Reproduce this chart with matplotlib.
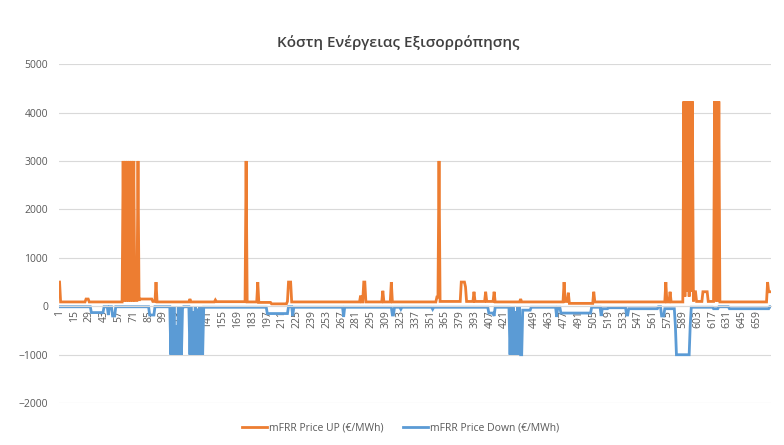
import matplotlib
matplotlib.use("Agg")
import matplotlib.pyplot as plt
import numpy as np

# set font
plt.rcParams['font.family'] = ['Open Sans', 'DejaVu Sans']

title = "Κόστη Ενέργειας Εξισορρόπησης"
label_up = "mFRR Price UP (€/MWh)"
label_down = "mFRR Price Down (€/MWh)"

n_points = 672

# runs: (last index of run, value)
up_runs = [(1, 500), (25, 90), (28, 150), (60, 90),
           (61, 3000), (62, 100), (63, 3000), (64, 100), (65, 3000), (66, 100),
           (67, 3000), (68, 100), (69, 3000), (70, 100), (71, 3000),
           (74, 120), (75, 3000), (76, 120), (88, 150), (91, 100),
           (92, 500), (123, 90), (124, 150), (147, 90), (148, 130), (176, 95), (177, 3000),
           (187, 90), (188, 500), (200, 80), (215, 50), (216, 100), (219, 500), (284, 90),
           (285, 220), (287, 90), (289, 500), (305, 90), (306, 320), (313, 90), (314, 500),
           (356, 90), (358, 190), (359, 3000), (379, 100), (383, 500), (384, 400), (391, 100),
           (392, 300), (402, 100), (403, 300), (410, 100), (411, 300), (435, 90), (436, 150),
           (476, 90), (477, 500), (480, 100), (481, 280), (504, 60), (505, 300), (572, 90),
           (573, 500), (576, 90), (577, 300), (589, 90),
           (590, 4230), (591, 200), (592, 4230), (593, 300), (594, 4230), (595, 200),
           (596, 4230), (597, 300), (598, 4230),
           (599, 100), (601, 300), (607, 100), (612, 300), (618, 100),
           (619, 4230), (620, 100), (621, 4230), (622, 100), (623, 4230),
           (668, 90), (669, 500), (672, 300)]

down_runs = [(30, -10), (42, -130), (46, -10), (47, -180), (50, -10), (53, -200), (85, -10),
             (90, -180), (105, -10),
             (106, -1000), (107, -10), (108, -1000), (109, -10), (110, -1000), (111, -400),
             (112, -1000), (113, -10), (114, -1000), (115, -10), (116, -1000), (117, -50),
             (123, -10),
             (124, -1000), (125, -10), (126, -1000), (127, -100), (128, -1000), (129, -10),
             (130, -1000), (131, -50), (132, -1000), (133, -10), (134, -1000), (135, -10),
             (136, -1000),
             (196, -20), (216, -150),
             (220, -10), (221, -200), (268, -20), (269, -220), (314, -20), (316, -180),
             (322, -20), (323, -60), (352, -20), (353, -60), (405, -20), (410, -140),
             (411, -200), (425, -20),
             (426, -1000), (427, -20), (428, -1000), (429, -20), (430, -1000), (431, -100),
             (432, -1000), (433, -20), (434, -1000), (435, -20), (437, -1000),
             (445, -80),
             (469, -20), (470, -220), (473, -20), (502, -140), (511, -20), (512, -200),
             (518, -50), (535, -30), (537, -180), (565, -50), (568, -10), (571, -200),
             (581, -50), (582, -400), (595, -1000), (596, -400), (617, -20), (622, -50),
             (632, -10), (670, -50), (672, -10)]


def expand(runs):
    ends = np.array([r[0] for r in runs])
    vals = np.array([r[1] for r in runs], dtype=float)
    counts = np.diff(np.concatenate([[0], ends]))
    return np.repeat(vals, counts)


price_up = expand(up_runs)
price_down = expand(down_runs)
x = np.arange(1, n_points + 1)

fig = plt.figure(figsize=(7.84, 4.45), dpi=100)
ax = fig.add_axes([0.0753, 0.094, 0.9085, 0.762])

# axis line through zero (set before tick styling, it resets the ticks)
for s in ['top', 'right', 'left']:
    ax.spines[s].set_visible(False)
ax.spines['bottom'].set_position(('data', 0))
ax.spines['bottom'].set_color('#d9d9d9')

ax.plot(x, price_up, color='#ED7D31', lw=2.0, label=label_up, solid_joinstyle='miter')
ax.plot(x, price_down, color='#5B9BD5', lw=2.0, label=label_down, solid_joinstyle='miter')

ax.set_xlim(0.5, n_points + 0.5)
ax.set_ylim(-2000, 5000)
ax.set_yticks(np.arange(-2000, 5001, 1000))
ax.grid(axis='y', color='#d9d9d9', lw=0.8)
ax.set_axisbelow(True)

ticks = np.arange(1, n_points + 1, 14)
ax.set_xticks(ticks)
ax.set_xticklabels([str(t) for t in ticks])
ax.tick_params(axis='x', length=0, pad=3, labelrotation=90, labelsize=7.5,
               labelcolor='#595959')
ax.tick_params(axis='y', labelsize=7.5, labelcolor='#595959', length=0, pad=8)

fig.text(0.508, 0.905, title, ha='center', va='center', fontsize=11,
         color='#404040', fontweight='semibold')

fig.legend(loc='center', bbox_to_anchor=(0.511, 0.038), ncol=2, frameon=False,
           fontsize=7.5, labelcolor='#595959', handlelength=2.4, columnspacing=1.9,
           handletextpad=0.2)

plt.savefig("out.png", dpi=100)
